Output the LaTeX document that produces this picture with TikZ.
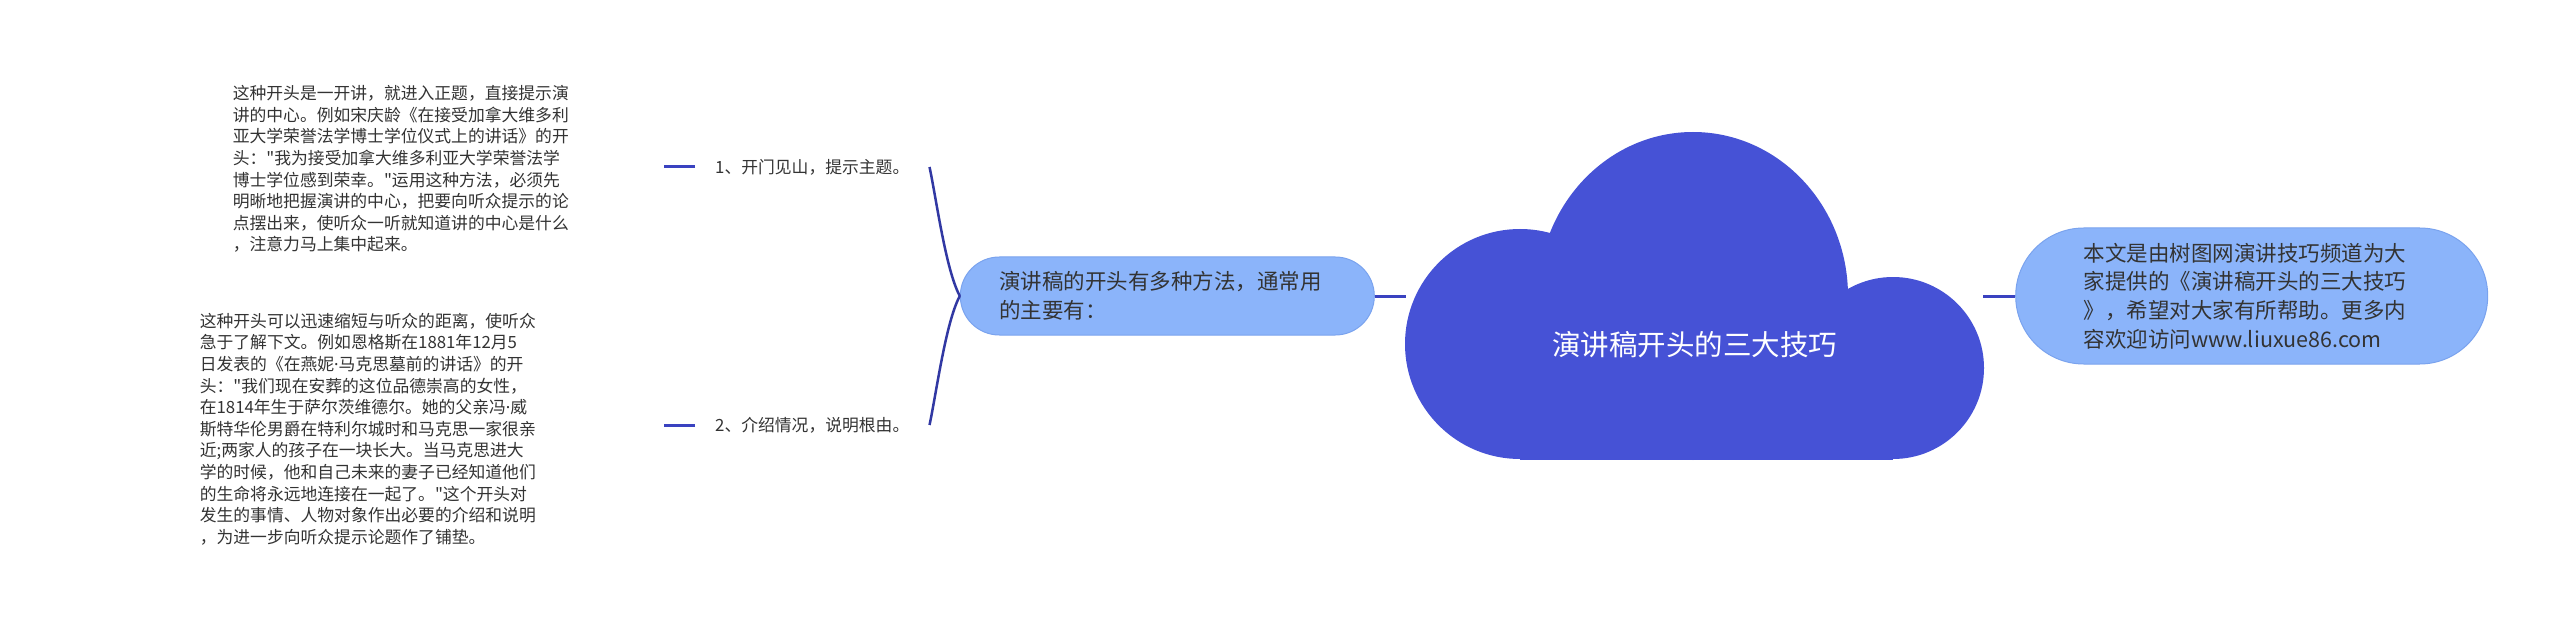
\documentclass[tikz,border=0pt]{standalone}
\usepackage{fontspec}
\usepackage{tikz}
\usetikzlibrary{positioning}
\newfontfamily\cjk{Noto Sans CJK SC}
\newfontfamily\latinfont{Noto Sans}
\definecolor{cloudblue}{RGB}{70,82,214}
\definecolor{pillblue}{RGB}{139,180,250}
\definecolor{pilledge}{RGB}{122,163,238}
\definecolor{linkblue}{RGB}{58,66,192}
\definecolor{textgray}{RGB}{51,51,51}

\begin{document}
\begin{tikzpicture}[
  x=1pt, y=1pt,
  node distance=30pt,
  pill/.style={fill=pillblue, draw=pilledge, line width=1pt, text=textgray, align=left,
    font=\cjk\fontsize{21.5}{28.7}\selectfont},
  topic/.style={text=textgray, inner xsep=20pt, inner ysep=4pt, anchor=west,
    font=\cjk\fontsize{16.8}{21.6}\selectfont},
  note/.style={text=textgray, text width=345pt, align=left, inner sep=0pt,
    font=\cjk\fontsize{16.8}{21.6}\selectfont},
  link/.style={draw=linkblue, line width=3pt},
  branch/.style={draw=linkblue!85!black, line width=2.5pt}
]
  \fill[white] (0,0) rectangle (2560,625);
  \useasboundingbox (0,0) rectangle (2560,625);

  \coordinate (rootc) at (1694.5,329);
  \begin{scope}[shift={(rootc)}, cloudblue]
    \fill (-174.5,-48) circle[radius=115];
    \fill (-1.5,0) ellipse[x radius=155, y radius=164];
    \fill (198.5,-72) circle[radius=91];
    \fill (-174.5,-48) rectangle (198.5,-164);
  \end{scope}
  \node[minimum width=577pt, minimum height=328pt, inner sep=0pt,
    label={[text=white, font=\cjk\fontsize{28.5}{34}\selectfont, yshift=-49pt]center:演讲稿开头的三大技巧}]
    (root) at (rootc) {};

  \node[pill, text width=336pt, inner xsep=39pt, minimum height=78pt, rounded corners=39pt,
    left=31pt of root] (methods) {演讲稿的开头有多种方法，通常用\\的主要有：};
  \node[pill, text width=336pt, inner xsep=68pt, minimum height=136pt, rounded corners=68pt,
    right=32pt of root] (source)
    {本文是由树图网演讲技巧频道为大\\家提供的《演讲稿开头的三大技巧\\》，希望对大家有所帮助。更多内\\容欢迎访问www.liuxue86.com};

  \node[topic] (open) at (695,458) {1、开门见山，提示主题。};
  \node[topic] (intro) at (695,200) {2、介绍情况，说明根由。};

  \node[note, left=117pt of open, yshift=-2pt] (opennote)
    {这种开头是一开讲，就进入正题，直接提示演\\讲的中心。例如宋庆龄《在接受加拿大维多利\\亚大学荣誉法学博士学位仪式上的讲话》的开\\头："我为接受加拿大维多利亚大学荣誉法学\\博士学位感到荣幸。"运用这种方法，必须先\\明晰地把握演讲的中心，把要向听众提示的论\\点摆出来，使听众一听就知道讲的中心是什么\\，注意力马上集中起来。};
  \node[note, left=150pt of intro, yshift=-4pt] (intronote)
    {这种开头可以迅速缩短与听众的距离，使听众\\急于了解下文。例如恩格斯在1881年12月5\\日发表的《在燕妮{\latinfont ·}马克思墓前的讲话》的开\\头："我们现在安葬的这位品德崇高的女性，\\在1814年生于萨尔茨维德尔。她的父亲冯{\latinfont ·}威\\斯特华伦男爵在特利尔城时和马克思一家很亲\\近;两家人的孩子在一块长大。当马克思进大\\学的时候，他和自己未来的妻子已经知道他们\\的生命将永远地连接在一起了。"这个开头对\\发生的事情、人物对象作出必要的介绍和说明\\，为进一步向听众提示论题作了铺垫。};

  \coordinate[left=31pt of open] (openend);
  \coordinate[left=31pt of intro] (introend);

  \draw[link] (root.west) -- (methods.east);
  \draw[link] (root.east) -- (source.west);
  \draw[link] (open.west) -- (openend);
  \draw[link] (intro.west) -- (introend);
  \draw[branch] (methods.west) .. controls +(-14,26) and +(7,-33) .. (open.east);
  \draw[branch] (methods.west) .. controls +(-14,-26) and +(7,33) .. (intro.east);
\end{tikzpicture}
\end{document}
